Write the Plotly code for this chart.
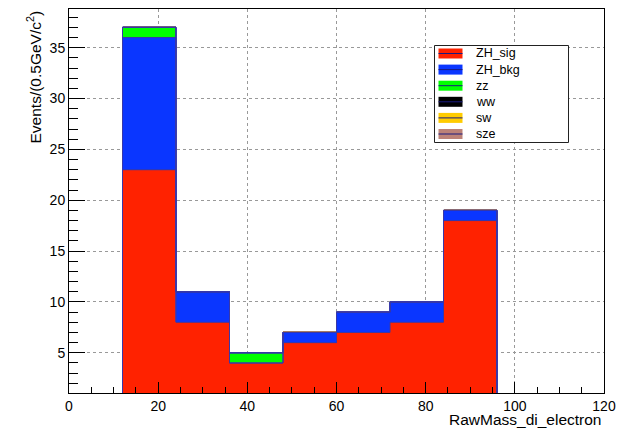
import plotly.graph_objects as go

# ---- data ----
bin_edges = [12, 24, 36, 48, 60, 72, 84, 96]
bin_centers = [18, 30, 42, 54, 66, 78, 90]
bin_width = 12
series_names = ["ZH_sig", "ZH_bkg", "zz", "ww", "sw", "sze"]
zh_sig = [23, 8, 4, 6, 7, 8, 18]
zh_bkg = [13, 3, 0, 1, 2, 2, 1]
zz = [1, 0, 1, 0, 0, 0, 0]
ww = [0, 0, 0, 0, 0, 0, 0]
sw = [0, 0, 0, 0, 0, 0, 0]
sze = [0, 0, 0, 0, 0, 0, 0]
series_values = [zh_sig, zh_bkg, zz, ww, sw, sze]
colors = ["#ff2200", "#0a36ff", "#00ff00", "#000000", "#ffcc00", "#bc8278"]
x_title = "RawMass_di_electron"
y_title = "Events/(0.5GeV/c<sup>2</sup>)"

W, H = 626, 428
L, R, T, B = 69, 22, 9, 35
pw, ph = W - L - R, H - T - B
FONT = "Liberation Sans, Arial, sans-serif"
edge = "#3838a8"

fig = go.Figure()
for name, vals, col in zip(series_names, series_values, colors):
    fig.add_trace(go.Bar(
        x=bin_centers, y=vals, width=bin_width, name=name,
        marker=dict(color=col, line=dict(color=col, width=0.5)),
        showlegend=False,
    ))

# ROOT-style step outlines of each cumulative stack level
cum = [0] * len(bin_centers)
for vals in series_values:
    cum = [c + v for c, v in zip(cum, vals)]
    xs = [bin_edges[0]] + bin_edges[:-1] + [bin_edges[-1], bin_edges[-1]]
    ys = [0] + cum + [cum[-1], 0]
    fig.add_trace(go.Scatter(
        x=xs, y=ys, mode="lines", line=dict(color=edge, width=1, shape="hv"),
        showlegend=False, hoverinfo="skip", cliponaxis=True,
    ))

def px_x(p):
    return (p - L) / pw

def px_y(p):
    return (H - B - p) / ph

shapes = []
annotations = []
# custom ROOT-style legend
lx0, lx1, ly0, ly1 = 434.5, 568.5, 45.5, 142.5
shapes.append(dict(type="rect", xref="paper", yref="paper",
                   x0=px_x(lx0), x1=px_x(lx1), y0=px_y(ly1), y1=px_y(ly0),
                   line=dict(color="#222", width=1), fillcolor="white", layer="above"))
for i, (name, col) in enumerate(zip(series_names, colors)):
    cy = 53.5 + i * 16.1
    shapes.append(dict(type="rect", xref="paper", yref="paper",
                       x0=px_x(438.5), x1=px_x(462.5), y0=px_y(cy + 5), y1=px_y(cy - 5),
                       line=dict(width=0), fillcolor=col, layer="above"))
    shapes.append(dict(type="line", xref="paper", yref="paper",
                       x0=px_x(438.5), x1=px_x(462.5), y0=px_y(cy), y1=px_y(cy),
                       line=dict(color="#1a1a80", width=1), layer="above"))
    annotations.append(dict(x=px_x(474), y=px_y(cy), xref="paper", yref="paper",
                            text=name, showarrow=False, xanchor="left", yanchor="middle",
                            font=dict(family=FONT, size=12.5, color="black")))

annotations.append(dict(x=1.0, y=px_y(419), xref="paper", yref="paper", text=x_title,
                        showarrow=False, xanchor="right", yanchor="middle",
                        font=dict(family=FONT, size=15.5, color="black")))
annotations.append(dict(x=px_x(34), y=1.0, xref="paper", yref="paper", text=y_title,
                        showarrow=False, xanchor="center", yanchor="top", textangle=-90,
                        font=dict(family=FONT, size=15.5, color="black")))

fig.update_layout(
    template="none",
    width=W, height=H,
    margin=dict(l=L, r=R, t=T, b=B, pad=0),
    paper_bgcolor="white", plot_bgcolor="white",
    barmode="stack", bargap=0,
    font=dict(family=FONT, size=14, color="black"),
    shapes=shapes, annotations=annotations,
    hovermode=False,
)
fig.update_xaxes(
    automargin=False,
    range=[0, 120], dtick=20, tick0=0,
    showline=True, mirror=True, linecolor="black", linewidth=1,
    ticks="inside", ticklen=11, tickcolor="black", tickwidth=1,
    minor=dict(dtick=5, ticks="inside", ticklen=6, tickcolor="black", showgrid=False),
    showgrid=True, gridcolor="#999", griddash="dot", gridwidth=1,
    zeroline=False, tickfont=dict(size=14, family=FONT),
)
fig.update_yaxes(
    automargin=False,
    range=[1.05, 38.8], dtick=5, tick0=0,
    showline=True, mirror=True, linecolor="black", linewidth=1,
    ticks="inside", ticklen=16, tickcolor="black", tickwidth=1,
    minor=dict(dtick=1, ticks="inside", ticklen=9, tickcolor="black", showgrid=False),
    showgrid=True, gridcolor="#999", griddash="dot", gridwidth=1,
    zeroline=False, tickfont=dict(size=14, family=FONT),
)

fig.write_html("out.html", config={"displayModeBar": False},
               post_script="document.body.style.margin='0';")
